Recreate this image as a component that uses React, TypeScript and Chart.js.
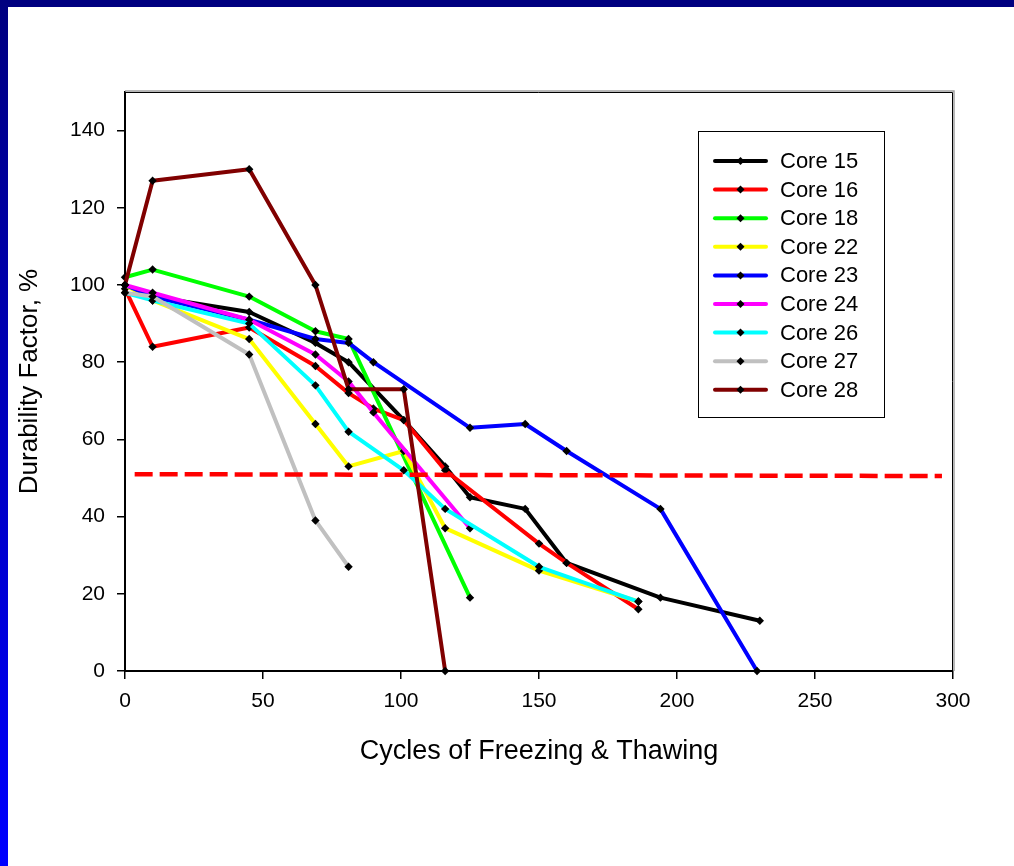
import React, { useEffect, useRef } from "react";
import { Chart, registerables } from "chart.js";

Chart.register(...registerables);

const FONT = "'Liberation Sans', Arial, Helvetica, sans-serif";

const seriesNames = ["Core 15", "Core 16", "Core 18", "Core 22", "Core 23", "Core 24", "Core 26", "Core 27", "Core 28"];
const seriesColors = ["#000000", "#ff0000", "#00ff00", "#ffff00", "#0000ff", "#ff00ff", "#00ffff", "#c0c0c0", "#800000"];

const core15Cycles = [0, 10, 45, 69, 81, 101, 116, 125, 145, 160, 194, 230];
const core15DF = [100, 97, 93, 85, 80, 65, 53, 45, 42, 28, 19, 13];

const core16Cycles = [0, 10, 45, 69, 81, 90, 101, 116, 150, 160, 186];
const core16DF = [99, 84, 89, 79, 72, 68, 65, 52, 33, 28, 16];

const core18Cycles = [0, 10, 45, 69, 81, 125];
const core18DF = [102, 104, 97, 88, 86, 19];

const core22Cycles = [0, 10, 45, 69, 81, 101, 116, 150, 186];
const core22DF = [100, 96, 86, 64, 53, 57, 37, 26, 18];

const core23Cycles = [0, 10, 45, 69, 81, 90, 125, 145, 160, 194, 229];
const core23DF = [100, 97, 91, 86, 85, 80, 63, 64, 57, 42, 0];

const core24Cycles = [0, 10, 45, 69, 81, 90, 125];
const core24DF = [100, 98, 91, 82, 75, 67, 37];

const core26Cycles = [0, 10, 45, 69, 81, 101, 116, 150, 186];
const core26DF = [98, 96, 90, 74, 62, 52, 42, 27, 18];

const core27Cycles = [0, 10, 45, 69, 81];
const core27DF = [98, 97, 82, 39, 27];

const core28Cycles = [0, 10, 45, 69, 81, 101, 116];
const core28DF = [100, 127, 130, 100, 73, 73, 0];

const thresholdCycles = [3.5, 296];
const thresholdDF = [51, 50.5];

const seriesCycles = [core15Cycles, core16Cycles, core18Cycles, core22Cycles, core23Cycles, core24Cycles, core26Cycles, core27Cycles, core28Cycles];
const seriesDF = [core15DF, core16DF, core18DF, core22DF, core23DF, core24DF, core26DF, core27DF, core28DF];

const xTicks = [0, 50, 100, 150, 200, 250, 300];
const yTicks = [0, 20, 40, 60, 80, 100, 120, 140];

const xTitle = "Cycles of Freezing & Thawing";
const yTitle = "Durability Factor, %";

const W = 1014;
const H = 866;

const frameLegendPlugin = {
  id: "frameLegend",
  afterDraw(chart: any) {
    const { ctx, chartArea } = chart;
    ctx.save();
    ctx.lineCap = "butt";
    ctx.strokeStyle = "#a0a0a0";
    ctx.lineWidth = 1.5;
    ctx.beginPath();
    ctx.moveTo(chartArea.left, chartArea.top - 1);
    ctx.lineTo(chartArea.right + 1, chartArea.top - 1);
    ctx.lineTo(chartArea.right + 1, chartArea.bottom);
    ctx.stroke();
    ctx.strokeStyle = "#000000";
    ctx.lineWidth = 1;
    ctx.beginPath();
    ctx.moveTo(chartArea.left, chartArea.top + 0.5);
    ctx.lineTo(chartArea.right - 0.5, chartArea.top + 0.5);
    ctx.lineTo(chartArea.right - 0.5, chartArea.bottom);
    ctx.stroke();

    const bx = 698, by = 131.5, bw = 186, bh = 286;
    ctx.fillStyle = "#ffffff";
    ctx.fillRect(bx, by, bw, bh);
    ctx.strokeStyle = "#000000";
    ctx.lineWidth = 1;
    ctx.strokeRect(bx + 0.5, by, bw, bh);
    ctx.font = `22px ${FONT}`;
    ctx.textBaseline = "middle";
    ctx.textAlign = "left";
    seriesNames.forEach((name, i) => {
      const y = 161 + i * 28.6;
      ctx.strokeStyle = seriesColors[i];
      ctx.lineWidth = 4;
      ctx.lineCap = "round";
      ctx.beginPath();
      ctx.moveTo(715, y);
      ctx.lineTo(766, y);
      ctx.stroke();
      ctx.fillStyle = "#000000";
      ctx.beginPath();
      ctx.moveTo(740.5, y - 4);
      ctx.lineTo(744.5, y);
      ctx.lineTo(740.5, y + 4);
      ctx.lineTo(736.5, y);
      ctx.closePath();
      ctx.fill();
      ctx.fillText(name, 780, y + 1);
    });
    ctx.restore();
  },
};

export default function App() {
  const canvasRef = useRef<HTMLCanvasElement | null>(null);

  useEffect(() => {
    if (!canvasRef.current) return;
    const datasets: any[] = seriesNames.map((name, i) => ({
      label: name,
      data: seriesCycles[i].map((x, j) => ({ x, y: seriesDF[i][j] })),
      borderColor: seriesColors[i],
      backgroundColor: "#000000",
      borderWidth: 4,
      borderJoinStyle: "round",
      borderCapStyle: "round",
      pointStyle: "rectRot",
      pointRadius: 4.2,
      pointBorderWidth: 0,
      pointBackgroundColor: "#000000",
      tension: 0,
      fill: false,
      clip: 6,
      order: seriesNames.length - i + 1,
    }));
    datasets.push({
      label: "threshold",
      data: thresholdCycles.map((x, j) => ({ x, y: thresholdDF[j] })),
      borderColor: "#ff0000",
      borderWidth: 4.5,
      borderDash: [18, 7],
      borderCapStyle: "butt",
      pointRadius: 0,
      tension: 0,
      fill: false,
      order: 0,
    });

    const chart = new Chart(canvasRef.current, {
      type: "line",
      data: { datasets },
      plugins: [frameLegendPlugin],
      options: {
        animation: false,
        responsive: false,
        devicePixelRatio: 1,
        layout: { padding: { left: 0, top: 92, right: W - 953, bottom: 0 } },
        plugins: { legend: { display: false }, tooltip: { enabled: false } },
        scales: {
          x: {
            type: "linear",
            min: 0,
            max: 300,
            afterFit: (s: any) => { s.height = H - 671; },
            afterBuildTicks: (s: any) => { s.ticks = xTicks.map((v) => ({ value: v })); },
            grid: { display: true, drawOnChartArea: false, drawTicks: true, tickLength: 8, color: "#000000", lineWidth: 1.5 },
            border: { display: true, color: "#000000", width: 2 },
            ticks: { color: "#000000", font: { family: FONT, size: 21 }, padding: 10, maxRotation: 0 },
            title: { display: true, text: xTitle, color: "#000000", font: { family: FONT, size: 27 }, padding: { top: 0, bottom: 98 } },
          },
          y: {
            type: "linear",
            min: 0,
            max: 150,
            afterFit: (s: any) => { s.width = 125; },
            afterBuildTicks: (s: any) => { s.ticks = yTicks.map((v) => ({ value: v })); },
            grid: { display: true, drawOnChartArea: false, drawTicks: true, tickLength: 8, color: "#000000", lineWidth: 1.5 },
            border: { display: true, color: "#000000", width: 2 },
            ticks: { color: "#000000", font: { family: FONT, size: 21 }, padding: 12 },
            title: { display: true, text: yTitle, color: "#000000", font: { family: FONT, size: 26 }, padding: { top: 14, bottom: 0 } },
          },
        },
      },
    });
    return () => chart.destroy();
  }, []);

  return (
    <div style={{ position: "absolute", left: 0, top: 0, width: W, height: H, background: "#ffffff", overflow: "hidden" }}>
      <div style={{ position: "absolute", left: 0, top: 0, width: W, height: 7, background: "#000080" }} />
      <div style={{ position: "absolute", left: 0, top: 0, width: 8, height: H, background: "linear-gradient(to bottom, #000080, #0000ff)" }} />
      <canvas ref={canvasRef} width={W} height={H} style={{ position: "absolute", left: 0, top: 0, width: W, height: H }} />
    </div>
  );
}
